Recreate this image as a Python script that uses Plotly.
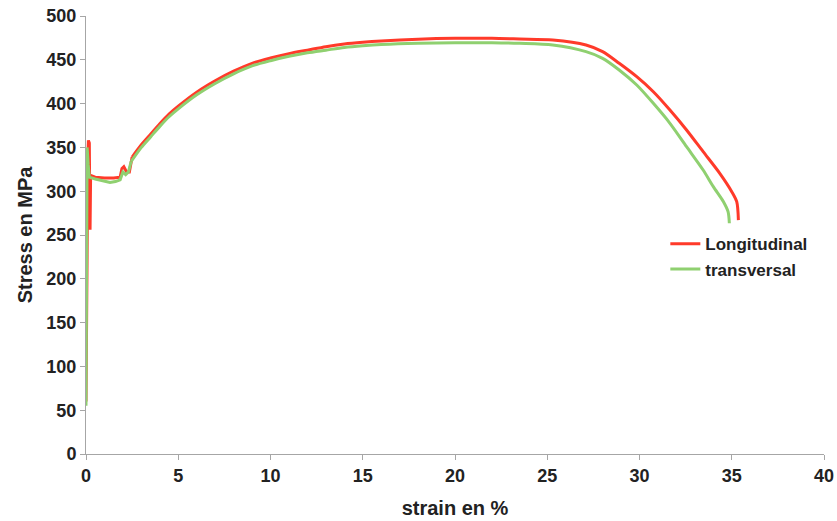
import plotly.graph_objects as go

# Longitudinal (red): yield region and hardening/necking region
long_yield_strain = [0, 0.04, 0.10, 0.13, 0.18, 0.20, 0.22, 0.25, 0.5, 1.0, 1.5, 1.85, 1.95, 2.05, 2.2, 2.35, 2.5]
long_yield_stress = [60, 200, 340, 358, 355, 300, 256, 318, 316, 315, 315, 316, 326, 328, 322, 322, 339]
long_strain = [2.5, 3.0, 3.5, 4.0, 4.5, 5.0, 6.0, 7.0, 8.0, 9.0, 10.0, 11.0, 12.0, 13.0, 14.0, 15.0,
               16.0, 18.0, 20.0, 22.0, 23.5, 25.3, 27.1, 28.0, 28.9, 29.85, 30.75, 31.65, 32.55,
               33.45, 34.35, 35.0, 35.27, 35.36]
long_stress = [339, 353, 365, 377, 388, 397, 413, 426, 437, 446, 452, 457, 461, 465, 468, 470,
               471.5, 473.5, 474.5, 474.5, 473.7, 472.6, 466.9, 459.3, 446, 430.7, 413.6, 392.7, 369.9,
               345.1, 320.4, 299.5, 288, 267]

# Transversal (green)
trans_yield_strain = [0, 0.03, 0.06, 0.12, 0.18, 0.5, 0.94, 1.3, 1.6, 1.85, 2.0, 2.15, 2.3, 2.45]
trans_yield_stress = [55, 200, 350, 330, 316, 314, 312, 310, 311, 313, 322, 319, 322, 334]
trans_strain = [2.45, 3.0, 3.5, 4.0, 4.5, 5.0, 6.0, 7.0, 8.0, 9.0, 10.0, 11.0, 12.0, 13.0, 14.0,
                15.0, 16.0, 18.0, 20.0, 22.0, 23.5, 25.3, 27.1, 28.0, 28.9, 29.85, 30.75, 31.65,
                32.55, 33.45, 34.0, 34.55, 34.8, 34.87]
trans_stress = [334, 350, 362, 374, 385, 394, 410, 423, 434, 443, 449, 454, 458, 461, 464,
                466, 467.5, 469, 469.5, 469.5, 468.8, 466.9, 459.3, 451.7, 438.4, 421.2, 400.3, 377.5,
                350.8, 324.2, 305.2, 288, 276.6, 263.4]

x_ticks = [0, 5, 10, 15, 20, 25, 30, 35, 40]
y_ticks = [0, 50, 100, 150, 200, 250, 300, 350, 400, 450, 500]

RED = "#FF3A2A"
GREEN = "#8FD070"
FONT = "Liberation Sans, Arial, sans-serif"
TXT = "#222222"

fig = go.Figure()
fig.add_trace(go.Scatter(x=long_yield_strain, y=long_yield_stress, mode="lines", name="Longitudinal",
                         legendgroup="L", showlegend=False, line=dict(color=RED, width=3)))
fig.add_trace(go.Scatter(x=long_strain, y=long_stress, mode="lines", name="Longitudinal",
                         legendgroup="L", line=dict(color=RED, width=3, shape="spline", smoothing=0.8)))
fig.add_trace(go.Scatter(x=trans_yield_strain, y=trans_yield_stress, mode="lines", name="transversal",
                         legendgroup="T", showlegend=False, line=dict(color=GREEN, width=3)))
fig.add_trace(go.Scatter(x=trans_strain, y=trans_stress, mode="lines", name="transversal",
                         legendgroup="T", line=dict(color=GREEN, width=3, shape="spline", smoothing=0.8)))

axis_common = dict(showgrid=False, zeroline=False, showline=True, linecolor="#A6A6A6",
                   linewidth=1, ticks="outside", ticklen=5, tickcolor="#A6A6A6",
                   tickfont=dict(family=FONT, size=18, color=TXT, weight="bold"))

fig.update_xaxes(range=[0, 40], tickvals=x_ticks,
                 title=dict(text="strain en %", font=dict(family=FONT, size=20, color=TXT, weight="bold"),
                            standoff=16),
                 **axis_common)
fig.update_yaxes(range=[0, 500], tickvals=y_ticks,
                 title=dict(text="Stress en MPa", font=dict(family=FONT, size=20, color=TXT, weight="bold"),
                            standoff=8),
                 **axis_common)

fig.update_layout(
    width=837, height=521,
    margin=dict(l=86, r=13, t=16, b=67, autoexpand=False),
    plot_bgcolor="white", paper_bgcolor="white",
    showlegend=True,
    legend=dict(x=0.785, y=0.52, xanchor="left", yanchor="top",
                font=dict(family=FONT, size=17, color=TXT, weight="bold"),
                bgcolor="rgba(0,0,0,0)", itemwidth=30, tracegroupgap=0),
)

fig.write_html("out.html")
